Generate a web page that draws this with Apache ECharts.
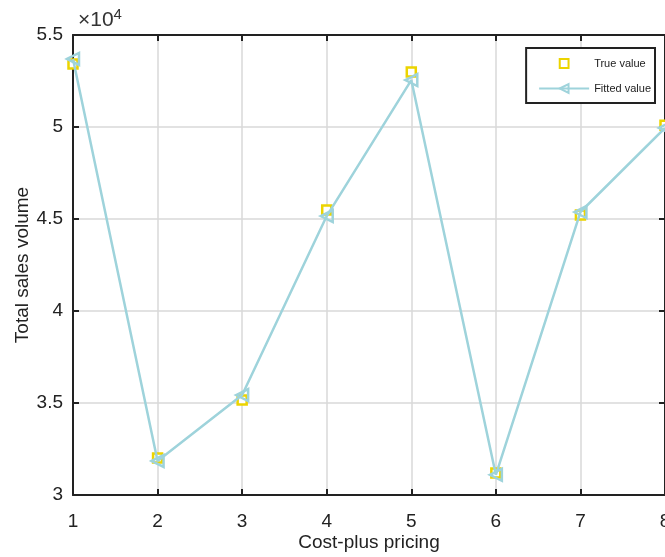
<!DOCTYPE html>
<html>
<head>
<meta charset="utf-8">
<script src="https://cdn.jsdelivr.net/npm/echarts@6/dist/echarts.min.js"></script>
<style>html,body{margin:0;padding:0;background:#fff;}#c{width:665px;height:557px;}</style>
</head>
<body>
<div id="c"></div>
<script>
const xValues = [1, 2, 3, 4, 5, 6, 7, 8];
const trueValues = [53420, 32010, 35160, 45490, 52990, 31200, 45220, 50100];
const fittedValues = [53700, 31850, 35430, 45160, 52550, 31100, 45380, 49950];
const yTicks = [30000, 35000, 40000, 45000, 50000, 55000];

const chart = echarts.init(document.getElementById('c'));
const font = 'Arial, "Liberation Sans", sans-serif';
const axisBase = {
  axisLine: {show: true, onZero: false, lineStyle: {color: '#222', width: 2}},
  axisTick: {show: true, inside: true, length: 6, lineStyle: {color: '#222', width: 2}},
};
chart.setOption({
  animation: false,
  backgroundColor: '#fff',
  grid: {left: 73, top: 35, right: 0, bottom: 62, show: false, containLabel: false, outerBoundsMode: 'none'},
  legend: {
    right: 10, top: 48,
    orient: 'vertical',
    backgroundColor: '#fff',
    borderColor: '#222', borderWidth: 2, borderRadius: 0,
    padding: [10, 4, 9, 12],
    itemGap: 14,
    itemWidth: 50, itemHeight: 11,
    textStyle: {fontSize: 11, color: '#222', fontFamily: font},
    data: ['True value', 'Fitted value']
  },
  graphic: [{
    type: 'text', left: 78, top: 7,
    style: {
      text: '{a|×10}{b|4}',
      rich: {
        a: {fontSize: 21, fill: '#333', fontFamily: font},
        b: {fontSize: 15, fill: '#333', fontFamily: font, verticalAlign: 'top', padding: [0, 0, 12, 0]}
      }
    }
  }],
  xAxis: [{
    type: 'value', min: 1, max: 8, interval: 1,
    name: 'Cost-plus pricing', nameLocation: 'middle', nameGap: 38, nameMoveOverlap: false,
    nameTextStyle: {fontSize: 19, color: '#222', fontFamily: font},
    ...axisBase,
    axisLabel: {fontSize: 19, color: '#222', margin: 17, fontFamily: font},
    splitLine: {show: true, lineStyle: {color: '#d9d9d9', width: 1.5}}
  }, {
    type: 'value', min: 1, max: 8, interval: 1, position: 'top',
    ...axisBase,
    axisLabel: {show: false}, splitLine: {show: false}
  }],
  yAxis: [{
    type: 'value', min: 30000, max: 55000, interval: 5000,
    name: 'Total sales volume', nameLocation: 'middle', nameGap: 41, nameMoveOverlap: false,
    nameTextStyle: {fontSize: 19, color: '#222', fontFamily: font},
    ...axisBase,
    axisLabel: {fontSize: 19, color: '#222', margin: 10, fontFamily: font,
      formatter: v => (yTicks.includes(v) ? String(v / 10000) : '')},
    splitLine: {show: true, lineStyle: {color: '#d9d9d9', width: 1.5}}
  }, {
    type: 'value', min: 30000, max: 55000, interval: 5000, position: 'right',
    ...axisBase,
    axisLabel: {show: false}, splitLine: {show: false}
  }],
  series: [{
    name: 'True value', type: 'line',
    symbol: 'rect', symbolSize: 9, showSymbol: true,
    lineStyle: {width: 0, opacity: 0},
    itemStyle: {color: '#fff', borderColor: '#ecd400', borderWidth: 2.5},
    data: xValues.map((x, i) => [x, trueValues[i]]),
    z: 2
  }, {
    name: 'Fitted value', type: 'line',
    symbol: 'triangle', symbolRotate: 90, symbolSize: 12, showSymbol: true,
    lineStyle: {color: '#9ed3db', width: 2.5},
    itemStyle: {color: 'rgba(255,255,255,0)', borderColor: '#9ed3db', borderWidth: 2.5},
    data: xValues.map((x, i) => [x, fittedValues[i]]),
    z: 3
  }]
});
</script>
</body>
</html>
